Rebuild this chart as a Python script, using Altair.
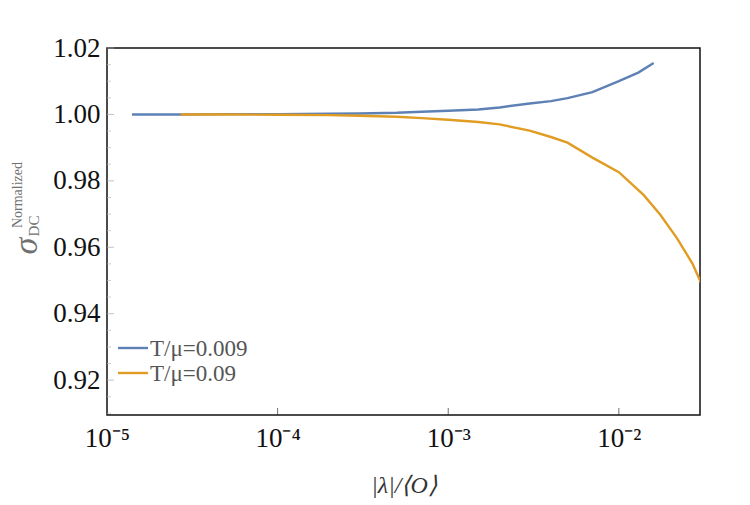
import altair as alt
import pandas as pd

# Series labels
label_low = "T/μ=0.009"
label_high = "T/μ=0.09"

# T/mu = 0.009
x_low = [1.4e-5, 2e-5, 3e-5, 5e-5, 1e-4, 2e-4, 3e-4, 5e-4, 7e-4, 1e-3,
         1.5e-3, 2e-3, 3e-3, 4e-3, 5e-3, 7e-3, 1e-2, 1.3e-2, 1.6e-2]
y_low = [1.0000, 1.0000, 1.0000, 1.0001, 1.0001, 1.0002, 1.0003, 1.0005, 1.0008, 1.0011,
         1.0015, 1.0021, 1.0033, 1.0040, 1.0049, 1.0067, 1.0100, 1.0126, 1.0155]

# T/mu = 0.09
x_high = [2.7e-5, 5e-5, 1e-4, 2e-4, 3e-4, 5e-4, 7e-4, 1e-3, 1.5e-3, 2e-3,
          3e-3, 4e-3, 5e-3, 7e-3, 1e-2, 1.4e-2, 1.75e-2, 2.2e-2, 2.7e-2, 3.16e-2]
y_high = [1.0000, 1.0000, 0.9999, 0.9998, 0.9996, 0.9993, 0.9989, 0.9984, 0.9977, 0.9970,
          0.9951, 0.9932, 0.9915, 0.9870, 0.9826, 0.9757, 0.9698, 0.9626, 0.9551, 0.9472]

x_ticks = [1e-5, 1e-4, 1e-3, 1e-2]
y_ticks = [0.92, 0.94, 0.96, 0.98, 1.00, 1.02]
y_minor = [0.91, 0.915, 0.925, 0.93, 0.935, 0.945, 0.95, 0.955, 0.965, 0.97,
           0.975, 0.985, 0.99, 0.995, 1.005, 1.01, 1.015]

colors = ["#5E81B5", "#E19C24"]

df = pd.DataFrame({
    "x": x_low + x_high,
    "y": y_low + y_high,
    "series": [label_low] * len(x_low) + [label_high] * len(x_high),
})

W, H = 593, 367
FONT = "Liberation Serif"

x_scale = alt.Scale(type="log", domain=[1e-5, 0.0299], nice=False)
y_scale = alt.Scale(domain=[0.9095, 1.02], nice=False, zero=False)

sup_expr = ("'10⁻' + ['⁰','¹','²','³','⁴','⁵','⁶'][-round(log(datum.value)/LN10)]")

lines = alt.Chart(df).mark_line(strokeWidth=2.4, clip=True).encode(
    x=alt.X("x:Q", scale=x_scale,
            axis=alt.Axis(values=x_ticks, labelExpr=sup_expr, ticks=False, domain=False,
                          grid=False, labelFontSize=27, labelColor="#111",
                          labelPadding=10, labelFlush=False, labelOverlap=False, labelBound=False,
                          title="|λ|/⟨O⟩", titleFontSize=24,
                          titleFontWeight="normal", titleFontStyle="italic",
                          titleColor="#333", titlePadding=22)),
    y=alt.Y("y:Q", scale=y_scale,
            axis=alt.Axis(values=y_ticks, format=".2f", ticks=False, domain=False, grid=False,
                          labelFontSize=27, labelColor="#111",
                          labelPadding=7, title=None)),
    color=alt.Color("series:N",
                    scale=alt.Scale(domain=[label_low, label_high], range=colors),
                    legend=None),
)

# Inward ticks on the bottom and left edges
x_tick_df = pd.DataFrame({"x": x_ticks[1:]})
x_tick_marks = alt.Chart(x_tick_df).mark_tick(color="#333", thickness=1, size=7).encode(
    x=alt.X("x:Q", scale=x_scale), y=alt.value(H - 3.5)
)

y_major_df = pd.DataFrame({"y": y_ticks})
y_major_marks = alt.Chart(y_major_df).mark_tick(color="#aaa", thickness=1, size=7).encode(
    y=alt.Y("y:Q", scale=y_scale), x=alt.value(3.5)
)

y_minor_df = pd.DataFrame({"y": y_minor})
y_minor_marks = alt.Chart(y_minor_df).mark_tick(color="#bbb", thickness=1, size=4).encode(
    y=alt.Y("y:Q", scale=y_scale), x=alt.value(2)
)

# Legend in the lower-left corner of the frame
legend_layers = []
for i, (name, col) in enumerate(zip([label_low, label_high], colors)):
    row_y = 300 + 25 * i
    legend_df = pd.DataFrame({"t": [name]})
    legend_layers.append(
        alt.Chart(legend_df).mark_rule(color=col, strokeWidth=2.4).encode(
            x=alt.value(11), x2=alt.value(41), y=alt.value(row_y))
    )
    legend_layers.append(
        alt.Chart(legend_df).mark_text(fontSize=23, color="#555", align="left",
                                       baseline="middle", dy=1).encode(
            text="t:N", x=alt.value(43), y=alt.value(row_y))
    )

# Vertical axis title: sigma with sub/superscript
title_color = "#707070"
sigma = alt.Chart(pd.DataFrame({"t": ["σ"]})).mark_text(
    fontSize=34, fontStyle="italic", angle=270, align="center",
    baseline="middle", color=title_color
).encode(text="t:N", x=alt.value(-80), y=alt.value(198))
sub = alt.Chart(pd.DataFrame({"t": ["DC"]})).mark_text(
    fontSize=15, angle=270, align="center", baseline="middle", color=title_color
).encode(text="t:N", x=alt.value(-73), y=alt.value(178))
sup = alt.Chart(pd.DataFrame({"t": ["Normalized"]})).mark_text(
    fontSize=14, angle=270, align="center", baseline="middle", color=title_color
).encode(text="t:N", x=alt.value(-89), y=alt.value(147))

chart = alt.layer(lines, x_tick_marks, y_major_marks, y_minor_marks, *legend_layers,
                  sigma, sub, sup).properties(
    width=W, height=H, autosize="none",
    padding={"left": 107, "top": 48, "right": 50, "bottom": 90},
    background="white",
).configure(font=FONT).configure_view(stroke="#111", strokeWidth=1.5)

chart.save("out.html", embed_options={"renderer": "svg", "actions": False})
